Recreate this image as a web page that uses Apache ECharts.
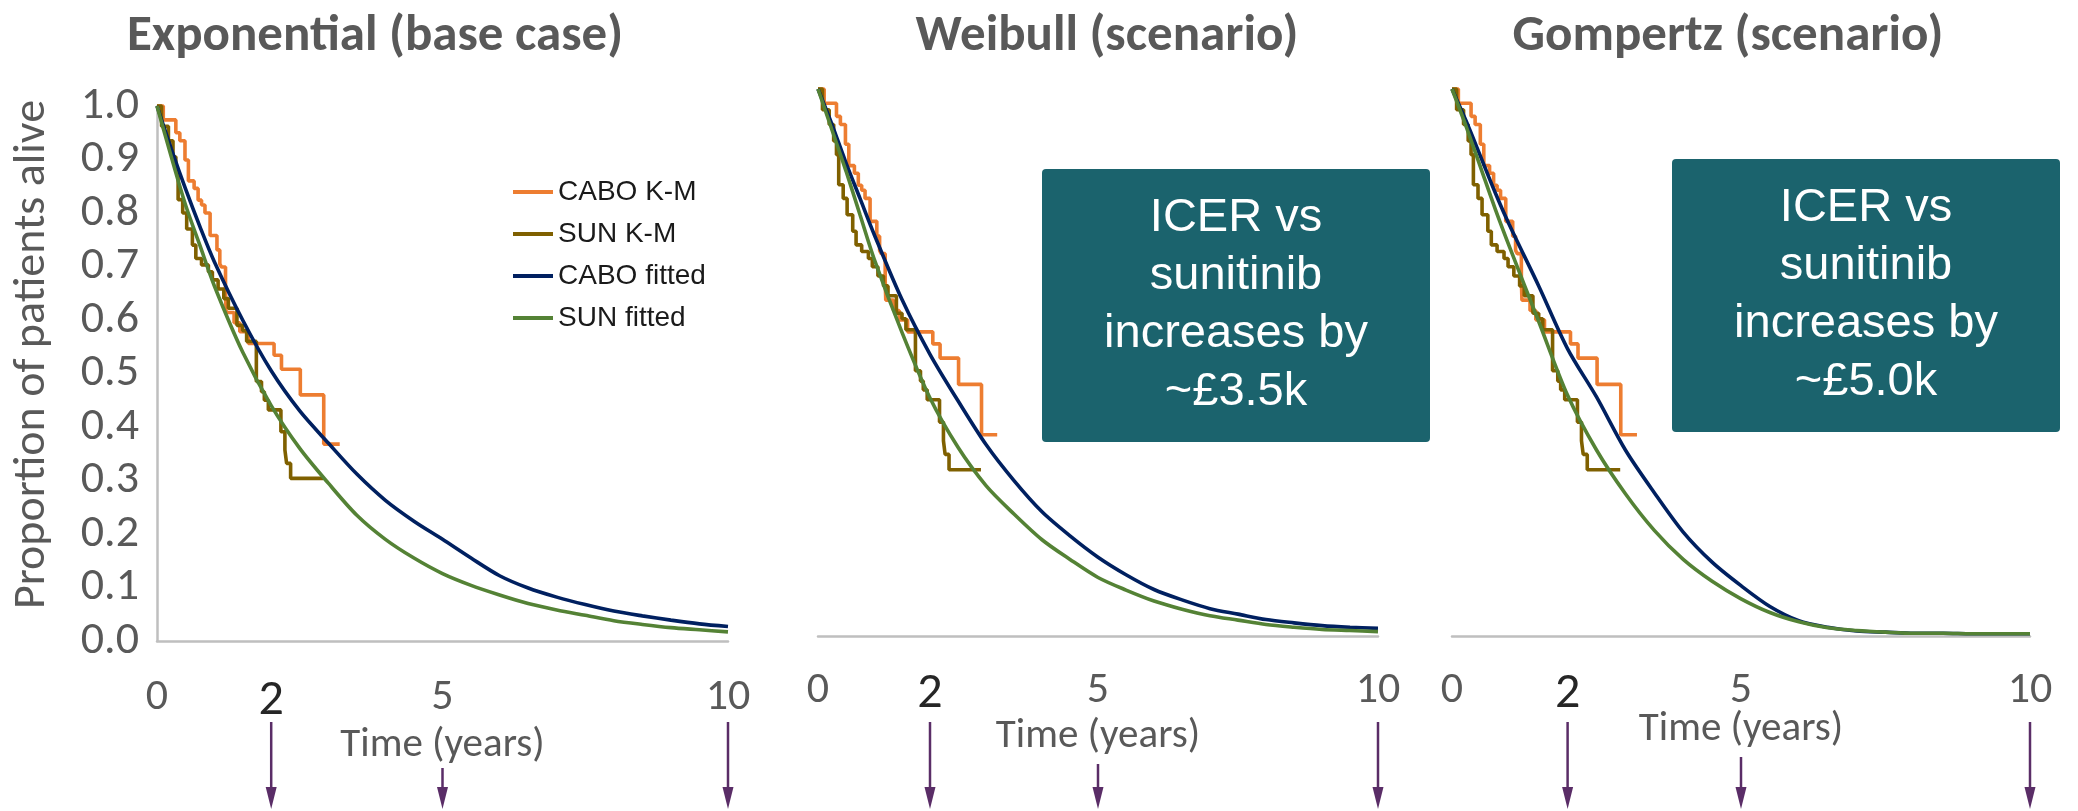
<!DOCTYPE html>
<html><head><meta charset="utf-8">
<script src="https://cdn.jsdelivr.net/npm/echarts@6/dist/echarts.min.js"></script>
<style>html,body{margin:0;padding:0;background:#fff}#c{width:2078px;height:811px}</style>
</head><body><div id="c"></div>
<script>
// ---------------- DATA ----------------
const panelTitles = ['Exponential (base case)', 'Weibull (scenario)', 'Gompertz (scenario)'];
const seriesNames = ['CABO K-M', 'SUN K-M', 'CABO fitted', 'SUN fitted'];
const xTickLabels = [0, 2, 5, 10];
const xHighlightTick = 2;
const arrowTimes = [2, 5, 10];
const xAxisTitle = 'Time (years)';
const yAxisTitle = 'Proportion of patients alive';

// Kaplan-Meier step data [time (years), survival]
const caboKM = [[0,1],[0.11,0.974],[0.33,0.95],[0.40,0.935],[0.49,0.899],[0.55,0.86],[0.65,0.846],[0.72,0.824],
  [0.78,0.815],[0.84,0.80],[0.93,0.758],[1.05,0.731],[1.10,0.705],[1.13,0.699],[1.20,0.65],[1.21,0.614],
  [1.35,0.595],[1.45,0.578],[1.60,0.556],[2.05,0.534],[2.18,0.508],[2.51,0.46],[2.92,0.368],[3.2,0.368]];
const sunKM = [[0,1],[0.08,0.962],[0.20,0.935],[0.28,0.905],[0.33,0.88],[0.37,0.825],[0.45,0.80],[0.52,0.77],
  [0.62,0.74],[0.68,0.715],[0.78,0.703],[0.90,0.690],[0.97,0.675],[1.07,0.658],[1.17,0.640],[1.25,0.622],
  [1.40,0.590],[1.50,0.580],[1.57,0.560],[1.74,0.485],[1.83,0.466],[1.88,0.45],[1.95,0.432],[2.17,0.391],
  [2.24,0.357],[2.27,0.332],[2.34,0.304],[2.91,0.304]];

// fitted curves, read at these times
const fitTimes = [0,0.25,0.5,0.75,1,1.5,2,2.5,3,3.5,4,4.5,5,5.5,6,6.5,7,7.5,8,8.5,9,9.5,10];
const expCabo = [1,0.92,0.845,0.775,0.71,0.60,0.505,0.43,0.37,0.312,0.263,0.224,0.19,0.155,0.122,0.099,0.082,0.068,0.056,0.047,0.039,0.032,0.027];
const expSun  = [1,0.905,0.815,0.74,0.665,0.54,0.44,0.36,0.295,0.235,0.19,0.155,0.126,0.104,0.086,0.07,0.058,0.048,0.038,0.031,0.025,0.021,0.017];
const weiCabo = [1,0.935,0.865,0.80,0.735,0.615,0.515,0.43,0.35,0.284,0.227,0.183,0.144,0.112,0.085,0.066,0.05,0.04,0.03,0.024,0.019,0.016,0.014];
const weiSun  = [1,0.925,0.85,0.77,0.69,0.555,0.435,0.345,0.275,0.223,0.176,0.14,0.107,0.084,0.064,0.049,0.037,0.029,0.021,0.016,0.012,0.010,0.008];
const gomCabo = [1,0.94,0.875,0.81,0.75,0.64,0.525,0.437,0.34,0.262,0.19,0.135,0.092,0.054,0.028,0.016,0.009,0.007,0.005,0.005,0.004,0.004,0.004];
const gomSun  = [1,0.93,0.855,0.78,0.71,0.575,0.44,0.34,0.26,0.193,0.14,0.10,0.068,0.043,0.026,0.015,0.01,0.007,0.005,0.005,0.004,0.004,0.004];

const boxLines = [null, ['ICER vs', 'sunitinib', 'increases by', '~£3.5k'], ['ICER vs', 'sunitinib', 'increases by', '~£5.0k']];

// ---------------- LAYOUT / STYLE ----------------
const colors = ['#ED7D31', '#7F6000', '#002060', '#548235'];
const grids = [
  {left: 157, top: 106, width: 571, height: 535},
  {left: 818, top: 89, width: 560, height: 547},
  {left: 1452, top: 89, width: 578, height: 547}
];
const labelMargins = [35, 33, 33];
const nameGaps = [84, 80, 73];
const titlePos = [[375, 37], [1107, 37], [1728, 37]];
const boxRects = [null, {x: 1042, y: 169, width: 388, height: 273}, {x: 1672, y: 159, width: 388, height: 273}];
const arrowTops = [[722, 768, 722], [722, 764, 722], [722, 757, 722]];
const labelFont = 'Carlito, Lato, sans-serif';

const fits = [[expCabo, expSun], [weiCabo, weiSun], [gomCabo, gomSun]];
const pair = (ts, vs) => ts.map((t, i) => [t, vs[i]]);

const xAxes = grids.map((g, i) => ({
  gridIndex: i, type: 'value', min: 0, max: 10, interval: 1,
  axisLine: {show: true, lineStyle: {color: '#BFBFBF', width: 2.5}},
  axisTick: {show: false}, splitLine: {show: false},
  axisLabel: {
    margin: labelMargins[i], fontSize: 44, color: '#595959', fontFamily: labelFont,
    showMinLabel: true, showMaxLabel: true,
    formatter: v => v === xHighlightTick ? '{b|' + v + '}' : (xTickLabels.includes(v) ? String(v) : ''),
    rich: {b: {fontSize: 50, color: '#262626', fontFamily: labelFont}}
  },
  name: xAxisTitle, nameLocation: 'middle', nameGap: nameGaps[i], nameMoveOverlap: false,
  nameTextStyle: {fontSize: 41, color: '#595959', fontFamily: labelFont}
}));
const yAxes = grids.map((g, i) => ({
  gridIndex: i, type: 'value', min: 0, max: 1, interval: 0.1,
  show: i === 0,
  axisLine: {show: true, lineStyle: {color: '#BFBFBF', width: 2.5}},
  axisTick: {show: false}, splitLine: {show: false},
  axisLabel: {margin: 18, fontSize: 46, color: '#595959', fontFamily: labelFont, formatter: v => v.toFixed(1)},
  name: i === 0 ? yAxisTitle : '', nameLocation: 'middle', nameGap: 102, nameMoveOverlap: false,
  nameTextStyle: {fontSize: 46, color: '#595959', fontFamily: labelFont, padding: [0, 0, 0, 38]}
}));

const series = [];
grids.forEach((g, i) => {
  series.push({name: seriesNames[0], type: 'line', step: 'end', xAxisIndex: i, yAxisIndex: i, data: caboKM,
    showSymbol: false, symbol: 'none', clip: false, lineStyle: {color: colors[0], width: 3.6}, itemStyle: {color: colors[0]}});
  series.push({name: seriesNames[1], type: 'line', step: 'end', xAxisIndex: i, yAxisIndex: i, data: sunKM,
    showSymbol: false, symbol: 'none', clip: false, lineStyle: {color: colors[1], width: 3.6}, itemStyle: {color: colors[1]}});
  series.push({name: seriesNames[2], type: 'line', smooth: 0.3, xAxisIndex: i, yAxisIndex: i,
    data: pair(fitTimes, fits[i][0]), showSymbol: false, symbol: 'none', clip: false,
    lineStyle: {color: colors[2], width: 3.6}, itemStyle: {color: colors[2]}});
  series.push({name: seriesNames[3], type: 'line', smooth: 0.3, xAxisIndex: i, yAxisIndex: i,
    data: pair(fitTimes, fits[i][1]), showSymbol: false, symbol: 'none', clip: false,
    lineStyle: {color: colors[3], width: 3.6}, itemStyle: {color: colors[3]}});
});

const chart = echarts.init(document.getElementById('c'), null, {renderer: 'canvas'});
chart.setOption({
  animation: false,
  backgroundColor: '#ffffff',
  grid: grids,
  xAxis: xAxes,
  yAxis: yAxes,
  legend: {
    data: seriesNames, orient: 'vertical', left: 508, top: 172,
    icon: 'rect', itemWidth: 40, itemHeight: 4, itemGap: 12, selectedMode: false,
    textStyle: {fontSize: 28, color: '#1a1a1a', fontFamily: 'Liberation Sans, Arial, sans-serif', lineHeight: 30}
  },
  series: series
});

// annotations: titles, boxes, arrows
const graphics = [];
panelTitles.forEach((t, i) => {
  graphics.push({type: 'text', x: titlePos[i][0], y: titlePos[i][1],
    style: {text: t, fill: '#595959', font: 'bold 51px ' + labelFont, align: 'center', verticalAlign: 'middle'}});
});
boxRects.forEach((r, i) => {
  if (!r) return;
  graphics.push({type: 'rect', shape: {x: r.x, y: r.y, width: r.width, height: r.height, r: 4},
    style: {fill: '#1B636D'}});
  graphics.push({type: 'text', x: r.x + r.width / 2, y: r.y + r.height / 2,
    style: {text: boxLines[i].join('\n'), fill: '#ffffff', font: '47px "Liberation Sans", Arial, sans-serif',
      lineHeight: 58, align: 'center', verticalAlign: 'middle'}});
});
grids.forEach((g, i) => {
  arrowTimes.forEach((t, k) => {
    const x = chart.convertToPixel({xAxisIndex: i}, t);
    const yTop = arrowTops[i][k], yBot = 809;
    graphics.push({type: 'line', shape: {x1: x, y1: yTop, x2: x, y2: yBot - 14},
      style: {stroke: '#5A2D67', lineWidth: 2.5}});
    graphics.push({type: 'polygon', shape: {points: [[x - 5.5, yBot - 22], [x + 5.5, yBot - 22], [x, yBot]]},
      style: {fill: '#5A2D67'}});
  });
});
chart.setOption({graphic: graphics});
</script>
</body></html>
